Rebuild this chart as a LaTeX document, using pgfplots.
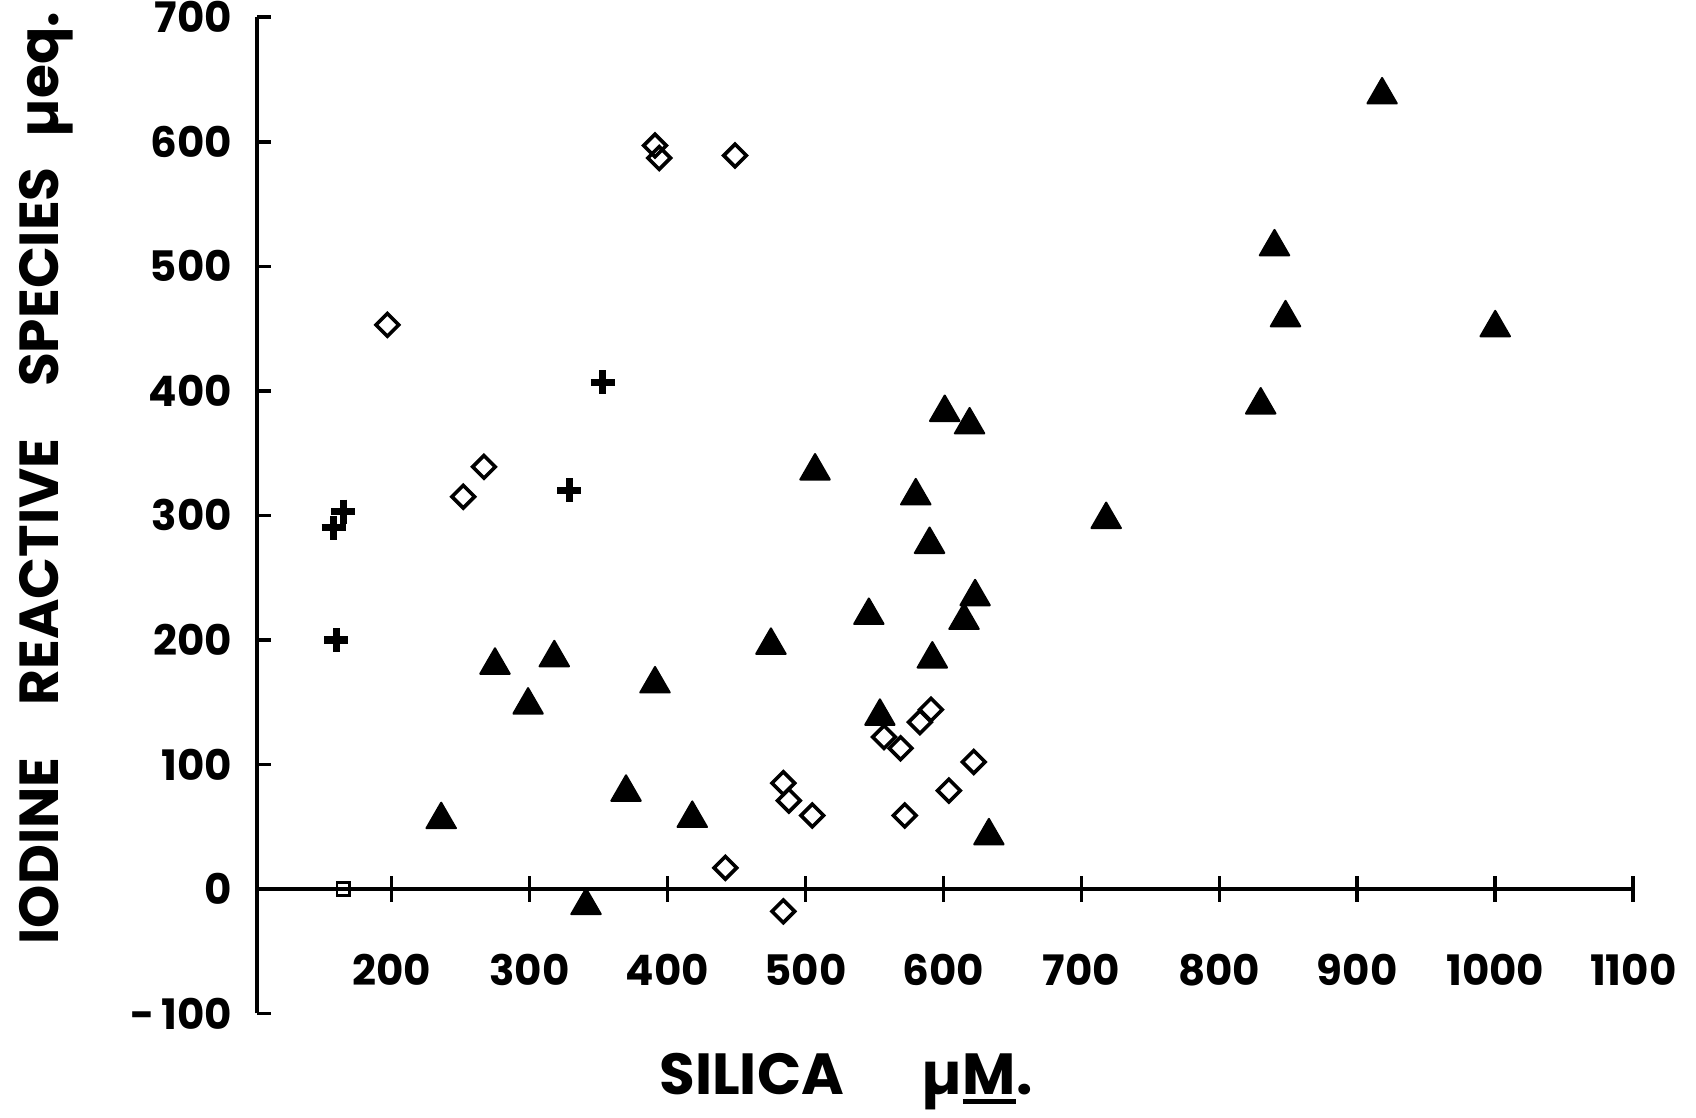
\documentclass[border=0pt]{standalone}
\usepackage{pgfplots}
\pgfplotsset{compat=1.18}
\usepackage{fontspec}
\setmainfont{Poppins}
\begin{document}
\begin{tikzpicture}
\useasboundingbox (0,0) rectangle (848bp,559bp);
\begin{axis}[
  at={(128.7bp,52.25bp)}, anchor=south west,
  width=687.9bp, height=498.1bp, scale only axis,
  xmin=102.8, xmax=1100, ymin=-100, ymax=700,
  axis x line=middle, axis y line=left,
  axis line style={-, line width=2bp},
  clip=false,
  xtick={200,300,...,1100},
  ytick={-100,0,...,700},
  xticklabels={200,300,400,500,600,700,800,900,1000,1100},
  yticklabels={-\,100,0,100,200,300,400,500,600,700},
  xtick align=center, ytick align=inside,
  x tick style={line width=1.8bp, black},
  y tick style={line width=1.8bp, black, /pgfplots/major tick length=7bp},
  major tick length=13bp,
  tick label style={font=\bfseries\fontsize{21bp}{21bp}\selectfont},
  xticklabel style={anchor=center, inner sep=0pt, yshift=-34bp},
  yticklabel style={anchor=east, inner sep=0pt, xshift=-12.5bp},
]
\addplot[only marks, mark=triangle*, mark size=8.5bp,
  mark options={black, fill=black, line width=1bp, line join=round, yshift=-2.1bp}] table {
x y
918 641
840 519
848 462
1000 454
830 392
718 300
507 339
601 386
619 376
580 319
590 280
623 238
615 219
546 223
592 188
475 199
554 142
391 168
275 183
318 189
299 151
370 81
418 60
236 59
633 46
341 -10
};
\addplot[only marks, mark=square, mark size=4bp,
  mark options={black, line width=1.8bp, rotate=45}] table {
x y
197 453
252 315
267 339
391 597
394 587
449 589
484 85
488 71
505 59
442 17
484 -18
557 122
569 113
583 134
591 144
622 102
604 79
572 59
};
\addplot[only marks, mark=+, mark size=6bp,
  mark options={black, line width=3.6bp}] table {
x y
353 407
329 320
165 303
158 290
160 200
};
\addplot[only marks, mark=square, mark size=3.2bp,
  mark options={black, line width=1.2bp}] coordinates {(165,0)};
\end{axis}
\node[rotate=90, font=\bfseries\fontsize{27.5bp}{27.5bp}\selectfont] at (23bp,320bp)
  {IODINE\hspace{26bp}REACTIVE\hspace{26bp}SPECIES\hspace{15bp}µeq.};
\node[font=\bfseries\fontsize{29bp}{29bp}\selectfont] at (423bp,18.2bp)
  {SILICA\hspace{39bp}µ{\setbox0\hbox{M}\rlap{\rule[-4.5bp]{\wd0}{2.5bp}}M}.};
\end{tikzpicture}
\end{document}
